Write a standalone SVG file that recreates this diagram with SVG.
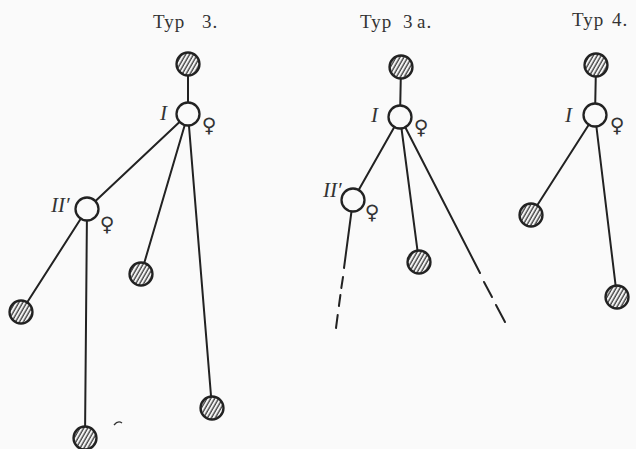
<svg xmlns="http://www.w3.org/2000/svg" width="636" height="449" viewBox="0 0 636 449">
<defs>
<pattern id="hatch" patternUnits="userSpaceOnUse" width="3.4" height="3.4" patternTransform="rotate(30)">
<rect width="3.4" height="3.4" fill="#f4f4f4"/>
<line x1="1" y1="0" x2="1" y2="3.4" stroke="#2a2a2a" stroke-width="1.2"/>
</pattern>
<style>
.c{stroke:#222;stroke-width:2;fill:none;stroke-linecap:round}
.h{fill:url(#hatch);stroke:#222;stroke-width:2.3}
.o{fill:#fafafa;stroke:#222;stroke-width:2.3}
.t{font-family:"Liberation Serif","DejaVu Serif",serif;font-size:19px;fill:#333;letter-spacing:1px}
.r{font-family:"Liberation Serif","DejaVu Serif",serif;font-style:italic;font-size:21px;fill:#333}
.s{font-family:"DejaVu Sans",sans-serif;font-size:20px;fill:#333;text-anchor:middle}
</style>
</defs>
<rect width="636" height="449" fill="#fafafa"/>
<g id="connectors">
<line class="c" x1="188" y1="64" x2="188" y2="114"/>
<line class="c" x1="188" y1="114" x2="87" y2="209"/>
<line class="c" x1="188" y1="114" x2="141" y2="274"/>
<line class="c" x1="188" y1="114" x2="212" y2="408"/>
<line class="c" x1="87" y1="209" x2="21" y2="312"/>
<line class="c" x1="87" y1="209" x2="85" y2="438"/>
<line class="c" x1="401" y1="67" x2="400" y2="117"/>
<line class="c" x1="400" y1="117" x2="353" y2="200"/>
<line class="c" x1="400" y1="117" x2="419" y2="262"/>
<line class="c" x1="400" y1="117" x2="480" y2="273"/>
<line class="c" x1="484" y1="282" x2="492" y2="297"/>
<line class="c" x1="496" y1="305" x2="505" y2="322"/>
<line class="c" x1="353" y1="200" x2="344" y2="268"/>
<line class="c" x1="343" y1="277" x2="341.3" y2="288"/>
<line class="c" x1="340.4" y1="295" x2="338.9" y2="306"/>
<line class="c" x1="337.7" y1="315" x2="336" y2="328"/>
<line class="c" x1="596" y1="65" x2="595" y2="115"/>
<line class="c" x1="595" y1="115" x2="531" y2="215"/>
<line class="c" x1="595" y1="115" x2="617" y2="297"/>
</g>
<g id="typ3">
<text class="t" x="153" y="28">Typ<tspan x="202">3.</tspan></text>
<g id="t3-top"><circle class="h" cx="188" cy="64" r="11.5"/></g>
<g id="t3-I"><circle class="o" cx="188" cy="114" r="11.5"/><text class="r" x="160" y="120">I</text><text class="s" x="209" y="132">♀</text></g>
<g id="t3-II"><circle class="o" cx="87" cy="209" r="11.5"/><text class="r" x="51" y="212">II′</text><text class="s" x="107" y="231">♀</text></g>
<g id="t3-mid"><circle class="h" cx="141" cy="274" r="11.5"/></g>
<g id="t3-right"><circle class="h" cx="212" cy="408" r="11.5"/></g>
<g id="t3-left"><circle class="h" cx="21" cy="312" r="11.5"/></g>
<g id="t3-bottom"><circle class="h" cx="85" cy="438" r="11.5"/></g>
<path d="M114 425 Q118 420 122 423" fill="none" stroke="#333" stroke-width="1.3"/>
</g>
<g id="typ3a">
<text class="t" x="360" y="28">Typ<tspan x="403">3</tspan><tspan x="417">a.</tspan></text>
<g id="t3a-top"><circle class="h" cx="401" cy="67" r="11.5"/></g>
<g id="t3a-I"><circle class="o" cx="400" cy="117" r="11.5"/><text class="r" x="371" y="122">I</text><text class="s" x="421" y="134">♀</text></g>
<g id="t3a-II"><circle class="o" cx="353" cy="200" r="11.5"/><text class="r" x="323" y="197">II′</text><text class="s" x="372" y="219">♀</text></g>
<g id="t3a-mid"><circle class="h" cx="419" cy="262" r="11.5"/></g>
</g>
<g id="typ4">
<text class="t" x="572" y="26">Typ<tspan x="612">4.</tspan></text>
<g id="t4-top"><circle class="h" cx="596" cy="65" r="11.5"/></g>
<g id="t4-I"><circle class="o" cx="595" cy="115" r="11.5"/><text class="r" x="565" y="122">I</text><text class="s" x="617" y="132">♀</text></g>
<g id="t4-left"><circle class="h" cx="531" cy="215" r="11.5"/></g>
<g id="t4-right"><circle class="h" cx="617" cy="297" r="11.5"/></g>
</g>
</svg>
